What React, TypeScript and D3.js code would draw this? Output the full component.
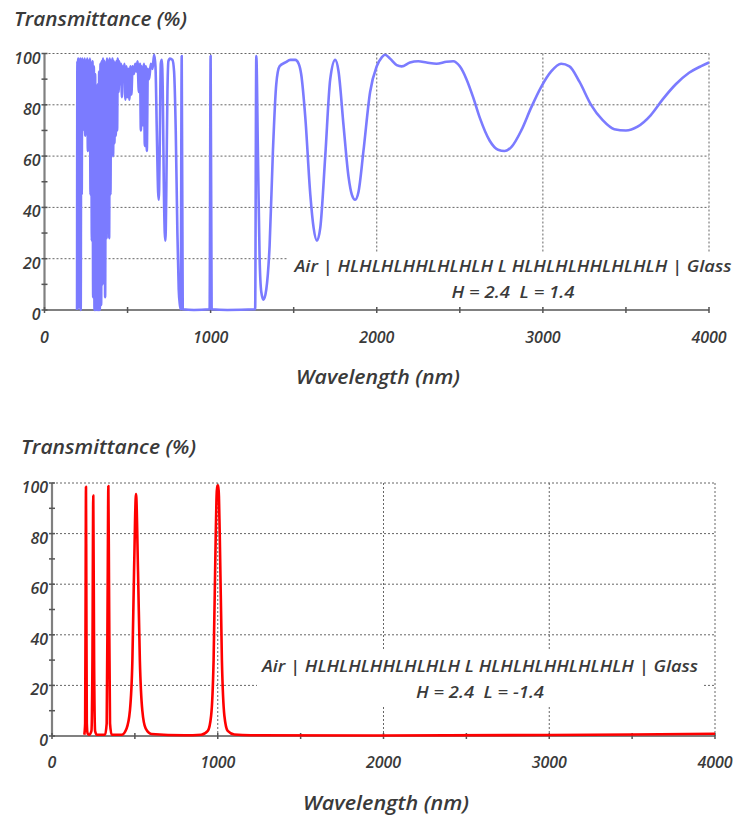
import React from 'react';
import * as d3 from 'd3';

// ---------- data ----------
const topWl = [196, 198, 200, 203, 206, 209, 212, 215, 218, 221, 224, 227, 230, 233, 237, 241, 245, 249, 253, 257, 261, 265, 269, 273, 277, 281, 285, 289, 293, 297, 301, 305, 309, 313, 317, 321, 325, 329, 333, 337, 341, 345, 349, 353, 357, 361, 365, 369, 373, 377, 381, 385, 389, 393, 397, 401, 405, 409, 413, 417, 421, 425, 429, 433, 437, 441, 446, 451, 456, 461, 466, 471, 476, 481, 487, 493, 499, 505, 511, 517, 523, 530, 538, 546, 553, 560, 568, 575, 580, 586, 592, 598, 604, 610, 616, 622, 630, 640, 650, 660, 668, 676, 684, 688, 693, 700, 706, 712, 718, 724, 728, 733, 740, 746, 755, 770, 780, 790, 800, 808, 815, 820, 826, 832, 900, 994, 1000, 1006, 1100, 1268, 1275, 1285, 1295, 1305, 1318, 1335, 1355, 1375, 1395, 1415, 1450, 1480, 1510, 1530, 1545, 1570, 1600, 1620, 1640, 1660, 1690, 1720, 1750, 1770, 1800, 1830, 1850, 1870, 1890, 1920, 1960, 2000, 2030, 2050, 2080, 2120, 2150, 2200, 2250, 2300, 2360, 2420, 2460, 2500, 2540, 2580, 2620, 2680, 2730, 2770, 2810, 2870, 2930, 2990, 3050, 3110, 3160, 3220, 3290, 3360, 3430, 3500, 3570, 3650, 3720, 3800, 3880, 3950, 4000];
const topT = [0, 97, 3, 98, 1, 97, 50, 98, 0, 96, 45, 98, 70, 97, 75, 98, 68, 97, 80, 98, 62, 97, 75, 98, 45, 96, 27, 97, 5, 95, 0, 92, 0, 85, 0, 88, 0, 93, 0, 96, 2, 97, 10, 98, 30, 97, 5, 96, 28, 98, 35, 97, 28, 98, 45, 97, 62, 98, 60, 97, 65, 96, 68, 97, 70, 98, 85, 97, 88, 96, 83, 95, 90, 96, 82, 95, 83, 94, 82, 95, 84, 95, 92, 96, 93, 97, 85, 96, 70, 95, 72, 96, 64, 95, 62, 94, 90, 96, 94, 99.5, 95, 70, 46, 43, 60, 96, 97.5, 85, 50, 30, 27, 45, 85, 97, 98, 97.5, 93, 70, 30, 8, 2, 0.3, 99, 0.3, 0, 0.3, 99, 0.3, 0, 0.3, 99, 60, 20, 7, 4, 8, 25, 62, 88, 95, 96.5, 97.5, 97.5, 96, 92, 75, 45, 32, 27, 32, 60, 90, 97.5, 93, 72, 52, 45, 43, 46, 62, 85, 95, 98.5, 99.5, 98, 95.5, 95, 96.5, 97, 96.5, 96, 96.8, 97, 95, 90, 83, 75, 66, 62.5, 62, 63.5, 70, 79, 87, 93, 96, 95, 89, 80, 74, 70.5, 70, 71.5, 76, 82, 88, 92.5, 95, 96.5];

const botWl = [195, 200, 203, 205, 207, 210, 215, 225, 238, 244, 249, 254, 260, 270, 320, 330, 336, 340, 344, 350, 360, 420, 450, 470, 485, 495, 507, 519, 530, 545, 565, 600, 800, 900, 940, 960, 975, 988, 996, 1004, 1012, 1025, 1040, 1060, 1100, 1200, 2000, 3000, 3500, 4000];
const botT = [0.5, 5, 60, 98.5, 60, 5, 1, 0.5, 2, 30, 95, 30, 2, 0.5, 0.5, 5, 60, 98.8, 60, 5, 0.5, 0.5, 3, 10, 30, 65, 95.6, 65, 30, 10, 3, 0.8, 0.3, 0.5, 2, 8, 30, 80, 99, 99, 80, 30, 8, 2, 0.6, 0.3, 0.2, 0.4, 0.6, 0.9];

const xTickLabels = [0, 1000, 2000, 3000, 4000];
const xMinorTicks = [0, 500, 1000, 1500, 2000, 2500, 3000, 3500, 4000];
const yTickLabels = [0, 20, 40, 60, 80, 100];
const yMinorTicks = [0, 10, 20, 30, 40, 50, 60, 70, 80, 90, 100];
const gridXValues = [1000, 2000, 3000, 4000];
const gridYValues = [20, 40, 60, 80, 100];

const yTitle = 'Transmittance (%)';
const xTitle = 'Wavelength (nm)';
const stackText = 'Air | HLHLHLHHLHLHLH L HLHLHLHHLHLHLH | Glass';
const topParams = 'H = 2.4  L = 1.4';
const botParams = 'H = 2.4  L = -1.4';

// ---------- layout ----------
const FONT = "'Open Sans', 'Noto Sans', sans-serif";
const TEXT = '#3a3a3a';

type PanelCfg = {
  x0: number; x1: number; yb: number; yt: number;
  titleX: number; titleY: number; titleW: number;
  tickLabelY: number; axisLabelX: number; axisLabelY: number; axisLabelW: number;
  annX: number; annY1: number; annY2: number; annW1: number; annW2: number;
  box: { x: number; y: number; w: number; h: number };
  color: string; wl: number[]; t: number[]; params: string;
};

function Panel({ c }: { c: PanelCfg }) {
  const x = d3.scaleLinear().domain([0, 4000]).range([c.x0, c.x1]);
  const y = d3.scaleLinear().domain([0, 100]).range([c.yb, c.yt]);
  const pts: [number, number][] = c.wl.map((w, i) => [w, c.t[i]]);
  const line = d3.line<[number, number]>()
    .x(d => x(d[0]))
    .y(d => y(d[1]))
    .curve(d3.curveMonotoneX);
  const gridStyle = { stroke: '#666', strokeWidth: 1, strokeDasharray: '2,2' };
  const txt = { fontStyle: 'italic', fontFamily: FONT, fill: TEXT, fontWeight: 600 } as const;
  return (
    <g>
      {gridYValues.map(v => (
        <line key={'gy' + v} x1={x(0)} x2={x(4000)} y1={y(v)} y2={y(v)} {...gridStyle} />
      ))}
      {gridXValues.map(v => (
        <line key={'gx' + v} x1={x(v)} x2={x(v)} y1={y(100)} y2={y(0)} {...gridStyle} />
      ))}
      <rect x={c.box.x} y={c.box.y} width={c.box.w} height={c.box.h} fill="#fff" />
      <line x1={x(0)} x2={x(0)} y1={y(100)} y2={y(0)} stroke="#808080" strokeWidth={2.2} />
      <line x1={x(0)} x2={x(4000)} y1={y(0)} y2={y(0)} stroke="#808080" strokeWidth={2.2} />
      {yMinorTicks.map(v => (
        <line key={'yt' + v} x1={x(0) - 3} x2={x(0) + 3} y1={y(v)} y2={y(v)} stroke="#555" strokeWidth={1.5} />
      ))}
      {xMinorTicks.map(v => (
        <line key={'xt' + v} x1={x(v)} x2={x(v)} y1={y(0) - 3} y2={y(0) + 3} stroke="#555" strokeWidth={1.5} />
      ))}
      <path d={line(pts) || ''} fill="none" stroke={c.color} strokeWidth={2.6} strokeLinejoin="round" />
      {yTickLabels.map(v => (
        <text key={'yl' + v} x={x(0) - 4} y={y(v) + 10} textAnchor="end" fontSize={16} {...txt}>{v}</text>
      ))}
      {xTickLabels.map(v => (
        <text key={'xl' + v} x={x(v)} y={c.tickLabelY} textAnchor="middle" fontSize={16} {...txt}>{v}</text>
      ))}
      <text x={c.titleX} y={c.titleY} fontSize={20} textLength={c.titleW} lengthAdjust="spacingAndGlyphs" {...txt}>{yTitle}</text>
      <text x={c.axisLabelX - c.axisLabelW / 2} y={c.axisLabelY} fontSize={20} textLength={c.axisLabelW}
        lengthAdjust="spacingAndGlyphs" {...txt}>{xTitle}</text>
      <text x={c.annX - c.annW1 / 2} y={c.annY1} fontSize={17} textLength={c.annW1} lengthAdjust="spacingAndGlyphs"
        {...txt} style={{ whiteSpace: 'pre' }}>{stackText}</text>
      <text x={c.annX - c.annW2 / 2} y={c.annY2} fontSize={17} textLength={c.annW2} lengthAdjust="spacingAndGlyphs"
        {...txt} style={{ whiteSpace: 'pre' }}>{c.params}</text>
    </g>
  );
}

const topCfg: PanelCfg = {
  x0: 44.5, x1: 709, yb: 310, yt: 53.5,
  titleX: 14, titleY: 26, titleW: 173,
  tickLabelY: 343, axisLabelX: 378, axisLabelY: 384, axisLabelW: 164,
  annX: 513, annY1: 272, annY2: 298, annW1: 437, annW2: 123,
  box: { x: 288, y: 252, w: 452, h: 55 },
  color: '#7b7bff', wl: topWl, t: topT, params: topParams,
};

const botCfg: PanelCfg = {
  x0: 52, x1: 715, yb: 736, yt: 483,
  titleX: 21, titleY: 454, titleW: 175,
  tickLabelY: 768, axisLabelX: 386, axisLabelY: 810, axisLabelW: 166,
  annX: 480, annY1: 672, annY2: 698, annW1: 436, annW2: 128,
  box: { x: 257, y: 650, w: 445, h: 57 },
  color: '#ff0000', wl: botWl, t: botT, params: botParams,
};

export default function App() {
  return (
    <svg width={740} height={819} style={{ position: 'absolute', left: 0, top: 0, background: '#fff' }}>
      <rect width={740} height={819} fill="#fff" />
      <Panel c={topCfg} />
      <Panel c={botCfg} />
    </svg>
  );
}
